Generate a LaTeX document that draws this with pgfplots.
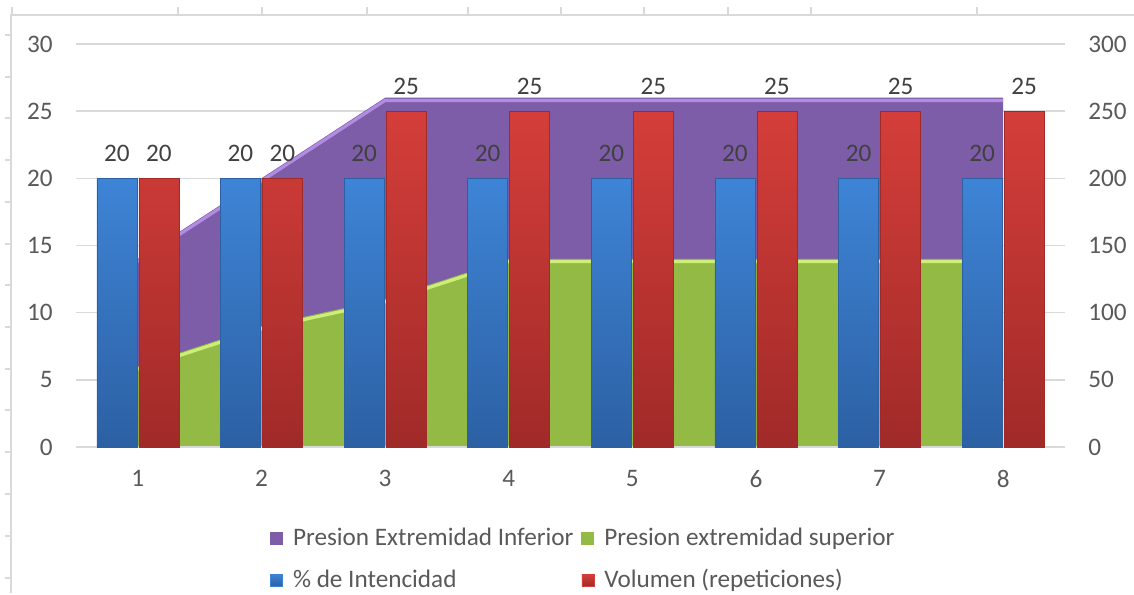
\documentclass[border=0pt]{standalone}
\usepackage{fontspec}
\setmainfont{Carlito}
\usepackage{pgfplots}
\pgfplotsset{compat=1.18}

\definecolor{barblue}{RGB}{62,132,214}
\definecolor{barbluedark}{RGB}{44,96,163}
\definecolor{barred}{RGB}{212,62,58}
\definecolor{barreddark}{RGB}{160,42,40}
\definecolor{areapurple}{RGB}{126,93,168}
\definecolor{areapurplelight}{RGB}{178,140,226}
\definecolor{areagreen}{RGB}{148,186,70}
\definecolor{areagreenlight}{RGB}{205,238,120}
\definecolor{txt}{RGB}{89,89,89}
\definecolor{lbl}{RGB}{64,64,64}
\definecolor{gridc}{RGB}{217,217,217}

\newcommand\chartfont{\fontsize{12.6}{15}\selectfont}

\begin{document}
\begin{tikzpicture}[x=0.5pt,y=0.5pt]

  % secondary axis: areas, grid, right labels
  \begin{axis}[
      scale only axis,
      width=494.5pt, height=201.5pt,
      xmin=0.5, xmax=8.5,
      ymin=0, ymax=300,
      xtick=\empty,
      ytick={0,50,...,300},
      yticklabel pos=right,
      ymajorgrids=true,
      grid style={gridc, line width=0.7pt},
      axis line style={draw=none},
      major tick length=0pt,
      yticklabel style={anchor=west, inner sep=0pt, xshift=11.5pt, font=\chartfont, text=txt},
      /pgf/number format/assume math mode=true,
    ]
    \addplot[draw=none, fill=areapurple] coordinates {
      (1,140) (2,200) (3,260) (4,260) (5,260) (6,260) (7,260) (8,260)} \closedcycle;
    \addplot[areapurplelight, line width=1.6pt] coordinates {
      (1,138) (2,198) (3,258) (4,258) (5,258) (6,258) (7,258) (8,258)};
    \addplot[draw=none, fill=areagreen] coordinates {
      (1,60) (2,90) (3,110) (4,140) (5,140) (6,140) (7,140) (8,140)} \closedcycle;
    \addplot[areagreenlight, line width=1.6pt] coordinates {
      (1,58) (2,88) (3,108) (4,138) (5,138) (6,138) (7,138) (8,138)};
    \coordinate (O) at (rel axis cs:0,0);
  \end{axis}

  % primary axis: bars, left labels, categories, legend
  \begin{axis}[
      scale only axis,
      width=494.5pt, height=201.5pt,
      xmin=0.5, xmax=8.5,
      ymin=0, ymax=30,
      xtick={1,...,8},
      ytick={0,5,...,30},
      axis x line*=bottom, axis y line*=left,
      x axis line style={gridc, line width=1.2pt, -},
      y axis line style={draw=none},
      major tick length=0pt,
      yticklabel style={anchor=east, inner sep=0pt, xshift=-11.5pt, font=\chartfont, text=txt},
      xticklabel style={anchor=north, inner sep=0pt, yshift=-11.5pt, font=\chartfont, text=txt},
      /pgf/number format/assume math mode=true,
      ybar, bar width=20pt,
      legend columns=2,
      legend cell align=left,
      legend style={
        at={(rel axis cs:0.196,-0.19)}, anchor=north west,
        draw=none, fill=none, inner sep=0pt,
        font=\chartfont, text=txt,
        row sep=6.5pt,
        /tikz/every even column/.append style={column sep=2pt},
      },
    ]
    \addlegendimage{legend image code/.code={\fill[areapurple] (0pt,-3pt) rectangle (6pt,3pt); \path (9pt,0pt);}}
    \addlegendentry{Presion Extremidad Inferior}
    \addlegendimage{legend image code/.code={\fill[areagreen] (0pt,-3pt) rectangle (6pt,3pt); \path (9pt,0pt);}}
    \addlegendentry{Presion extremidad superior}

    \addplot[draw=barbluedark, line width=0.3pt, top color=barblue, bottom color=barbluedark,
      bar shift=-10.5pt,
      nodes near coords,
      every node near coord/.append style={font=\chartfont, text=lbl, anchor=south, inner sep=0pt, yshift=8pt},
      legend image code/.code={\fill[barblue] (0pt,-3pt) rectangle (6pt,3pt); \path (9pt,0pt);}]
      coordinates {(1,20) (2,20) (3,20) (4,20) (5,20) (6,20) (7,20) (8,20)};
    \addlegendentry{\% de Intencidad}

    \addplot[draw=barreddark, line width=0.3pt, top color=barred, bottom color=barreddark,
      bar shift=10.5pt,
      nodes near coords,
      every node near coord/.append style={font=\chartfont, text=lbl, anchor=south, inner sep=0pt, yshift=8pt},
      legend image code/.code={\fill[barred] (0pt,-3pt) rectangle (6pt,3pt); \path (9pt,0pt);}]
      coordinates {(1,20) (2,20) (3,25) (4,25) (5,25) (6,25) (7,25) (8,25)};
    \addlegendentry{Volumen (repeticiones)}
  \end{axis}

  % page and frame of the screenshot, placed from the axis corner
  \begin{scope}[shift={(O)}, xshift=-38pt, yshift=-73pt]
    \path[use as bounding box] (0,0) rectangle (1134,593);
    \draw[gridc, line width=0.6pt] (11,0) -- (11,578) -- (1134,578);
    \foreach \t in {12,178,262,367,468,561,644,728,811,977}
      \draw[gridc, line width=0.6pt] (\t,578) -- (\t,586);
    \foreach \t in {35,77,118,160,202,244,285,327,369,410,452,494,536,578}
      \draw[gridc, line width=0.6pt] (11,593-\t) -- (5,593-\t);
  \end{scope}
\end{tikzpicture}
\end{document}
